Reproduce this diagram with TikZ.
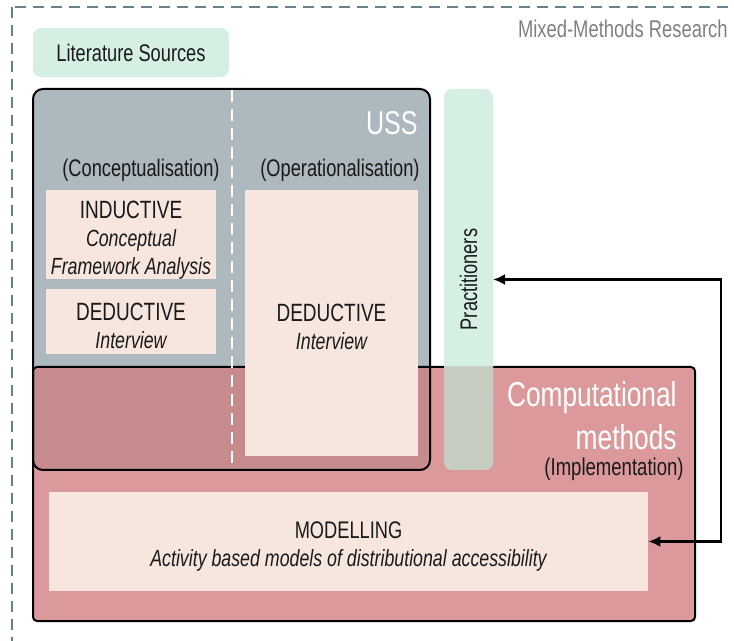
\documentclass[tikz,border=0pt]{standalone}
\usepackage{fontspec}
\setmainfont[FakeStretch=0.76]{Liberation Sans}
\usetikzlibrary{arrows.meta,positioning}

\definecolor{ussgray}{HTML}{ADB8BF}
\definecolor{comppink}{HTML}{DB999C}
\definecolor{mixpink}{HTML}{C78B8E}
\definecolor{litgreen}{HTML}{D5F0E3}
\definecolor{mixgreen}{HTML}{C5C8BB}
\definecolor{cream}{HTML}{F7E6DD}
\definecolor{framegray}{HTML}{67818C}
\definecolor{txtgray}{HTML}{808080}
\definecolor{ink}{HTML}{1A1A1A}

\newcommand{\subtxt}[1]{{\itshape\fontsize{11.7}{13.6}\selectfont #1}}

\tikzset{
  area/.style={rectangle, inner sep=0pt, outer sep=0pt},
  innerbox/.style={rectangle, fill=cream, inner sep=0pt},
  boxtxt/.style={inner sep=0pt, align=center, text=ink, font=\fontsize{12.5}{14}\selectfont},
  phase/.style={inner sep=0pt, text=ink, font=\fontsize{12}{14}\selectfont},
  bigtitle/.style={inner sep=0pt, text=white, font=\fontsize{17.3}{20}\selectfont, align=right},
}

\begin{document}
\begin{tikzpicture}[x=0.5pt, y=-0.5pt]
    \useasboundingbox (0,0) rectangle (734,641);

    % outer frame, runs off the page on the right and bottom
    \begin{scope}
        \clip (0,0) rectangle (734,641);
        \draw[framegray, line width=1pt, dash pattern=on 5.5pt off 3.5pt] (12,7) rectangle (760,670);
    \end{scope}
    \node[anchor=east, inner sep=0pt, text=txtgray, font=\fontsize{12.1}{14}\selectfont] at (728,29)(mmr){Mixed-Methods Research};

    \node[area, fill=litgreen, rounded corners=4pt, minimum width=98pt, minimum height=24.5pt,
        font=\fontsize{12}{14}\selectfont, text=ink] at (131,52.5)(lit){Literature Sources};

    % the two big areas and their overlap
    \node[area, fill=ussgray, minimum width=198.5pt, minimum height=190.5pt, rounded corners=5pt] at (231.5,279.5)(uss){};
    \node[area, fill=comppink, minimum width=331pt, minimum height=127pt, rounded corners=2pt] at (364,494)(comp){};
    \begin{scope}
        \clip[rounded corners=5pt] (uss.south west) rectangle (uss.north east);
        \fill[mixpink] (comp.south west) rectangle (comp.north east);
    \end{scope}
    \draw[line width=1pt, rounded corners=2pt] (comp.south west) rectangle (comp.north east);
    \draw[line width=1pt, rounded corners=5pt] (uss.south west) rectangle (uss.north east);
    \draw[white, line width=1pt, dash pattern=on 6pt off 3.5pt] (232,90) -- (232,469);

    % practitioners column
    \node[area, fill=litgreen, minimum width=24.5pt, minimum height=190.5pt, rounded corners=4pt] at (468.5,279.5)(prac){};
    \begin{scope}
        \clip (prac.west |- comp.north) rectangle (prac.south east);
        \fill[mixgreen, fill opacity=0.85, rounded corners=4pt] (prac.south west) rectangle (prac.north east);
    \end{scope}
    \node[phase, rotate=90] at (prac.center)(practxt){Practitioners};

    \node[bigtitle, anchor=east, font=\fontsize{16.5}{19}\selectfont] at (418,123)(usstxt){USS};
    \node[phase] at (141,170)(concept){(Conceptualisation)};
    \node[phase] at (340,170)(operat){(Operationalisation)};

    \node[innerbox, minimum width=85pt, minimum height=44.5pt] at (131,234.5)(ind){};
    \node[boxtxt] at ([yshift=-2.8pt]ind.center)(indtxt)
        {INDUCTIVE\\\subtxt{Conceptual}\\\subtxt{Framework Analysis}};
    \node[innerbox, minimum width=85pt, minimum height=32.5pt] at (131,321.5)(deda){};
    \node[boxtxt] at ([yshift=-2pt]deda.center)(dedatxt){DEDUCTIVE\\\subtxt{Interview}};
    \node[innerbox, minimum width=86.5pt, minimum height=133pt] at (331.5,323)(dedb){};
    \node[boxtxt] at ([yshift=-1.8pt]dedb.center)(dedbtxt){DEDUCTIVE\\\subtxt{Interview}};

    \node[bigtitle, anchor=east] at (677,398)(comptxt){Computational};
    \node[bigtitle, anchor=east] at (677,437)(methtxt){methods};
    \node[phase, anchor=east, font=\fontsize{12.2}{14}\selectfont] at (684,469)(impl){(Implementation)};

    \node[innerbox, minimum width=299.5pt, minimum height=49.5pt] at (348.5,541.5)(model){};
    \node[boxtxt, font=\fontsize{12}{14}\selectfont] at ([yshift=-2.5pt]model.center)(modeltxt)
        {MODELLING\\\subtxt{Activity based models of distributional accessibility}};

    \coordinate (turn) at (721,281);
    \draw[{Latex[length=6pt,width=5.5pt]}-{Latex[length=6pt,width=5.5pt]}, line width=1.4pt]
        (prac.east) -- (prac.east -| turn) |- (model.east);
\end{tikzpicture}
\end{document}
